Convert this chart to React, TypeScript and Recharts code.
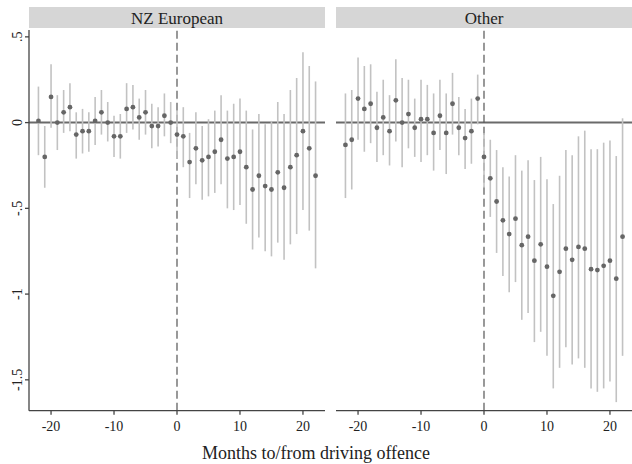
import React from 'react';
import {
  ComposedChart,
  Scatter,
  ErrorBar,
  XAxis,
  YAxis,
  ReferenceLine,
} from 'recharts';

// months relative to the driving offence
const MONTHS = [
  -22, -21, -20, -19, -18, -17, -16, -15, -14, -13, -12, -11, -10, -9, -8, -7, -6, -5, -4, -3, -2, -1,
  0, 1, 2, 3, 4, 5, 6, 7, 8, 9, 10, 11, 12, 13, 14, 15, 16, 17, 18, 19, 20, 21, 22,
];

// NZ European: point estimate, lower and upper bound of the CI
const NZ_EST = [
  0.01, -0.2, 0.15, 0.0, 0.06, 0.09, -0.07, -0.05, -0.05, 0.01, 0.06, 0.0, -0.08, -0.08, 0.08, 0.09, 0.03, 0.06, -0.02, -0.02, 0.04, 0.0,
  -0.07, -0.08, -0.23, -0.15, -0.22, -0.2, -0.17, -0.1, -0.21, -0.2, -0.17, -0.26, -0.39, -0.31, -0.37, -0.39, -0.29, -0.38, -0.26, -0.19, -0.05, -0.15, -0.31,
];
const NZ_LO = [
  -0.19, -0.38, -0.03, -0.16, -0.06, -0.05, -0.21, -0.18, -0.17, -0.13, -0.07, -0.11, -0.2, -0.21, -0.06, -0.04, -0.1, -0.07, -0.15, -0.14, -0.08, -0.12,
  -0.21, -0.26, -0.44, -0.36, -0.45, -0.43, -0.41, -0.36, -0.5, -0.51, -0.48, -0.59, -0.74, -0.67, -0.75, -0.78, -0.7, -0.8, -0.71, -0.65, -0.51, -0.63, -0.85,
];
const NZ_HI = [
  0.21, -0.02, 0.34, 0.16, 0.19, 0.23, 0.06, 0.08, 0.06, 0.15, 0.19, 0.12, 0.04, 0.05, 0.23, 0.22, 0.14, 0.19, 0.11, 0.09, 0.17, 0.12,
  0.07, 0.09, -0.06, 0.06, -0.02, 0.02, 0.07, 0.16, 0.07, 0.11, 0.14, 0.07, -0.04, 0.05, -0.01, 0.01, 0.12, 0.05, 0.19, 0.26, 0.41, 0.33, 0.24,
];

// Other
const OT_EST = [
  -0.13, -0.1, 0.14, 0.08, 0.11, -0.03, 0.03, -0.05, 0.13, 0.0, 0.05, -0.03, 0.02, 0.02, -0.06, 0.04, -0.06, 0.11, -0.03, -0.09, -0.05, 0.14,
  -0.2, -0.325, -0.46, -0.57, -0.65, -0.56, -0.715, -0.665, -0.805, -0.71, -0.84, -1.01, -0.87, -0.735, -0.8, -0.725, -0.735, -0.855, -0.86, -0.835, -0.805, -0.91, -0.665,
];
const OT_LO = [
  -0.44, -0.39, -0.1, -0.17, -0.12, -0.23, -0.19, -0.25, -0.11, -0.26, -0.15, -0.2, -0.23, -0.19, -0.28, -0.16, -0.3, -0.07, -0.19, -0.27, -0.24, -0.01,
  -0.38, -0.55, -0.76, -0.895, -0.99, -0.93, -1.15, -1.11, -1.28, -1.22, -1.36, -1.55, -1.43, -1.31, -1.41, -1.375, -1.43, -1.55, -1.57, -1.55, -1.51, -1.63, -1.36,
];
const OT_HI = [
  0.17, 0.19, 0.38, 0.33, 0.34, 0.18, 0.25, 0.16, 0.37, 0.26, 0.25, 0.14, 0.25, 0.22, 0.17, 0.25, 0.17, 0.29, 0.15, 0.08, 0.14, 0.28,
  -0.06, -0.1, -0.16, -0.26, -0.315, -0.19, -0.28, -0.22, -0.335, -0.2, -0.33, -0.475, -0.31, -0.16, -0.19, -0.08, -0.047, -0.155, -0.155, -0.117, -0.105, -0.195, 0.025,
];

const X_TICKS = [-20, -10, 0, 10, 20];
const Y_TICKS = [0.5, 0, -0.5, -1, -1.5];
const Y_LABELS: Record<string, string> = { '0.5': '.5', '0': '0', '-0.5': '-.5', '-1': '-1', '-1.5': '-1.5' };

const FONT = '"Liberation Serif", "DejaVu Serif", serif';
const AXIS = '#444';

const build = (est: number[], lo: number[], hi: number[]) =>
  MONTHS.map((m, i) => ({ month: m, est: est[i], err: [est[i] - lo[i], hi[i] - est[i]] }));

// rotated y labels, like stata's default
const YTick = ({ x, y, payload }: any) => (
  <text
    x={x - 5.5}
    y={y}
    transform={`rotate(-90 ${x - 5.5} ${y})`}
    textAnchor="middle"
    dominantBaseline="central"
    fontSize={14}
    fontFamily={FONT}
    fill="#222"
  >
    {Y_LABELS[String(payload.value)]}
  </text>
);

const Dot = (p: any) => <circle cx={p.cx} cy={p.cy} r={2.4} fill="#666" />;

function Panel({ title, data, showY, left, width }: { title: string; data: any[]; showY: boolean; left: number; width: number }) {
  const yw = showY ? 29 : 0;
  return (
    <div style={{ position: 'absolute', left, top: 0, width, height: 464 }}>
      <div
        style={{
          position: 'absolute', left: yw, top: 7, width: width - yw, height: 21, background: '#d6d6d6',
          fontFamily: FONT, fontSize: 17, color: '#222', textAlign: 'center', lineHeight: '24px',
        }}
      >
        {title}
      </div>
      <ComposedChart width={width} height={464} data={data} margin={{ top: 30, right: 0, bottom: 0, left: 0 }}>
        <XAxis
          type="number"
          dataKey="month"
          domain={[-23.5, 23.5]}
          ticks={X_TICKS}
          allowDataOverflow
          height={53.3}
          stroke={AXIS}
          strokeWidth={1.3}
          tickSize={4}
          tickMargin={6}
          tick={{ fontSize: 14, fontFamily: FONT, fill: '#222' }}
        />
        <YAxis
          type="number"
          domain={[-1.68, 0.54]}
          ticks={Y_TICKS}
          allowDataOverflow
          width={yw}
          hide={!showY}
          stroke={AXIS}
          strokeWidth={1.3}
          tickSize={4}
          tick={<YTick />}
        />
        <ReferenceLine y={0} stroke="#6a6a6a" strokeWidth={2} />
        <ReferenceLine x={0} stroke="#555" strokeWidth={1.2} strokeDasharray="8 4" />
        <Scatter dataKey="est" shape={<Dot />} isAnimationActive={false}>
          <ErrorBar dataKey="err" direction="y" width={0} stroke="#c2c2c2" strokeWidth={1.6} isAnimationActive={false} />
        </Scatter>
      </ComposedChart>
    </div>
  );
}

export default function App() {
  const nz = build(NZ_EST, NZ_LO, NZ_HI);
  const other = build(OT_EST, OT_LO, OT_HI);
  return (
    <div style={{ position: 'absolute', left: 0, top: 0, width: 632, height: 464, background: '#fff', overflow: 'hidden' }}>
      <Panel title="NZ European" data={nz} showY left={0} width={325} />
      <Panel title="Other" data={other} showY={false} left={336} width={296} />
      <div
        style={{
          position: 'absolute', left: 0, top: 443, width: 632, textAlign: 'center',
          fontFamily: FONT, fontSize: 18, color: '#222',
        }}
      >
        Months to/from driving offence
      </div>
    </div>
  );
}
